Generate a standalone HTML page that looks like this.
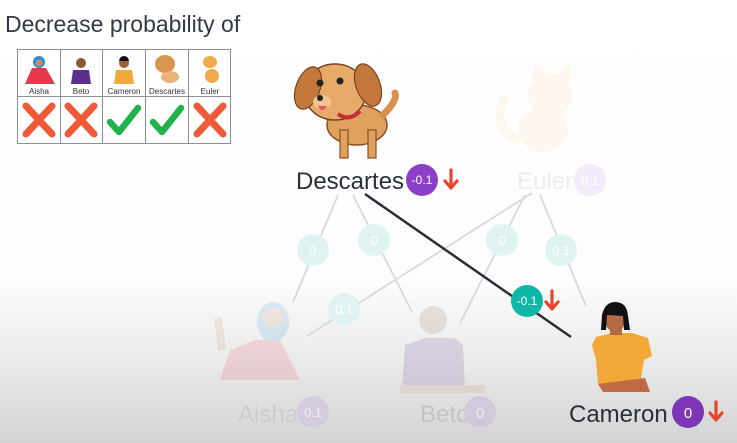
<!DOCTYPE html>
<html><head><meta charset="utf-8"><style>
html,body{margin:0;padding:0;width:737px;height:443px;overflow:hidden;font-family:"Liberation Sans",sans-serif}
</style></head><body>
<svg width="737" height="443" viewBox="0 0 737 443" xmlns="http://www.w3.org/2000/svg" font-family="Liberation Sans, sans-serif">
<defs>
<linearGradient id="bg" x1="0" y1="0" x2="0" y2="1">
<stop offset="0" stop-color="#fff"/><stop offset="0.63" stop-color="#fdfdfd"/><stop offset="0.8" stop-color="#ececec"/><stop offset="1" stop-color="#d4d4d4"/>
</linearGradient>
<g id="arr"><path d="M0 -9 V8 M-6 2 L0 9 L6 2" stroke="#e8432c" stroke-width="3.2" fill="none" stroke-linecap="round" stroke-linejoin="round"/></g>
<g id="x"><path d="M-13 -14 L13 14 M13 -14 L-13 14" stroke="#f05a38" stroke-width="7" stroke-linecap="round"/></g>
<g id="ck"><path d="M-14 2 L-5 12 L14 -12" stroke="#22b24c" stroke-width="6.5" fill="none" stroke-linecap="round" stroke-linejoin="round"/></g>
</defs>
<rect width="737" height="443" fill="url(#bg)"/>
<text x="5" y="32" font-size="23" fill="#333a44">Decrease probability of</text>
<g stroke="#8a8f99" stroke-width="1" fill="none">
<rect x="17.5" y="49.5" width="213" height="94" fill="#fff"/>
<line x1="17" y1="96.5" x2="231" y2="96.5"/>
<line x1="60.5" y1="49" x2="60.5" y2="144"/><line x1="102.5" y1="49" x2="102.5" y2="144"/>
<line x1="145.5" y1="49" x2="145.5" y2="144"/><line x1="188.5" y1="49" x2="188.5" y2="144"/>
</g>
<g font-size="8" fill="#333" text-anchor="middle">
<text x="39" y="94">Aisha</text><text x="81" y="94">Beto</text><text x="124" y="94">Cameron</text><text x="167" y="94">Descartes</text><text x="210" y="94">Euler</text>
</g>
<path d="M25 84 L32 68 L46 68 L55 84 Z" fill="#e8374f"/><circle cx="39" cy="62" r="6" fill="#2b8fd4"/><circle cx="39" cy="63" r="3.5" fill="#c98962"/>
<path d="M71 84 L73 70 L89 70 L91 84 Z" fill="#5b2d8f"/><circle cx="81" cy="63" r="5" fill="#8a5636"/>
<path d="M114 84 L116 70 L132 70 L134 84 Z" fill="#f3a93a"/><circle cx="124" cy="63" r="5" fill="#a0603c"/><path d="M119 61 a5 5 0 0 1 10 0" fill="#111"/>
<ellipse cx="165" cy="64" rx="10" ry="9" fill="#d9954f"/><ellipse cx="170" cy="77" rx="9" ry="6" fill="#e9b27a"/>
<ellipse cx="210" cy="62" rx="7" ry="6" fill="#f2a94a"/><ellipse cx="212" cy="76" rx="7" ry="7" fill="#f2a94a"/>
<use href="#x" x="39" y="120"/><use href="#x" x="81" y="120"/><use href="#ck" x="124" y="120"/><use href="#ck" x="167" y="120"/><use href="#x" x="210" y="120"/>
<g stroke="#d9d9d9" stroke-width="1.8">
<line x1="338" y1="195" x2="293" y2="302"/><line x1="353" y1="195" x2="412" y2="312"/>
<line x1="532" y1="193" x2="307" y2="336"/><line x1="525" y1="195" x2="460" y2="323"/><line x1="540" y1="195" x2="586" y2="306"/>
</g>
<line x1="365" y1="194" x2="571" y2="337" stroke="#2a2f36" stroke-width="2.5"/>
<g fill="#dff4f2"><circle cx="313" cy="250" r="16"/><circle cx="374" cy="240" r="16"/><circle cx="502" cy="240" r="16"/><circle cx="561" cy="250" r="16"/><circle cx="344" cy="309" r="16"/></g>
<g fill="#fff" font-size="13" text-anchor="middle"><text x="313" y="255">0</text><text x="374" y="245">0</text><text x="502" y="245">0</text><text x="561" y="255">0.1</text><text x="344" y="314">0.1</text></g>
<circle cx="527" cy="301" r="16" fill="#10b7a6"/><text x="527" y="305" fill="#fff" font-size="12" text-anchor="middle">-0.1</text>
<use href="#arr" x="552" y="300"/>
<g>
<ellipse cx="357" cy="125" rx="30" ry="20" fill="#e0a15e" stroke="#8a4f24" stroke-width="1.5"/>
<rect x="340" y="130" width="8" height="28" fill="#e0a15e" stroke="#8a4f24" stroke-width="1.2"/><rect x="368" y="130" width="8" height="28" fill="#e0a15e" stroke="#8a4f24" stroke-width="1.2"/>
<path d="M383 115 q15 -15 12 -22" stroke="#d9914d" stroke-width="7" fill="none" stroke-linecap="round"/>
<ellipse cx="335" cy="92" rx="31" ry="28" fill="#e7aa68" stroke="#7a4320" stroke-width="1.5"/>
<ellipse cx="308" cy="88" rx="12" ry="22" fill="#c2783a" stroke="#7a4320" stroke-width="1.2" transform="rotate(20 308 88)"/>
<ellipse cx="368" cy="85" rx="12" ry="22" fill="#c2783a" stroke="#7a4320" stroke-width="1.2" transform="rotate(-20 368 85)"/>
<circle cx="320" cy="83" r="3.5" fill="#222"/><circle cx="340" cy="81" r="3.5" fill="#222"/>
<ellipse cx="322" cy="102" rx="9" ry="7" fill="#f5c38f"/><circle cx="320" cy="98" r="3" fill="#222"/>
<path d="M318 106 q4 8 9 0 z" fill="#e3566a"/>
<path d="M338 114 q12 8 22 -3" stroke="#c3303a" stroke-width="4" fill="none"/>
</g>
<g opacity="0.08">
<ellipse cx="543" cy="130" rx="25" ry="22" fill="#f2a94a"/><circle cx="550" cy="95" r="22" fill="#f2a94a"/>
<path d="M532 80 L535 62 L546 76 Z M558 76 L570 62 L570 82 Z" fill="#f2a94a"/>
<path d="M520 140 q-30 -10 -15 -45" stroke="#f2a94a" stroke-width="9" fill="none"/>
</g>
<text x="296" y="189" font-size="24" fill="#2a2f3a">Descartes</text>
<circle cx="422" cy="180" r="16" fill="#8c3fc9"/><text x="422" y="184" font-size="12" fill="#fff" text-anchor="middle">-0.1</text>
<use href="#arr" x="451" y="179"/>
<text x="517" y="189" font-size="24" fill="#eeeeef">Euler</text>
<circle cx="590" cy="180" r="16" fill="#f3eafb"/><text x="590" y="185" font-size="13" fill="#fff" text-anchor="middle">0.1</text>
<g opacity="0.15">
<path d="M220 380 L230 350 L255 340 L280 340 L300 380 Z" fill="#e8374f"/>
<ellipse cx="273" cy="322" rx="16" ry="20" fill="#2b8fd4"/><circle cx="273" cy="318" r="10" fill="#c98962"/>
<path d="M222 350 L218 318" stroke="#c98962" stroke-width="8"/>
</g>
<g opacity="0.15">
<path d="M402 390 L405 345 L425 338 L455 338 L463 345 L465 390 Z" fill="#5b2d8f"/>
<circle cx="433" cy="320" r="14" fill="#8a5636"/><rect x="400" y="385" width="85" height="8" fill="#c98962"/>
</g>
<g>
<path d="M592 345 L596 337 L612 333 L632 333 L648 338 L652 356 L644 360 L640 384 L598 384 L596 360 Z" fill="#f3a93a"/>
<path d="M598 384 L645 378 L650 392 L603 392 Z" fill="#c06a45"/>
<rect x="610" y="325" width="12" height="10" fill="#b46a45"/>
<ellipse cx="615" cy="320" rx="10" ry="12" fill="#b46a45"/>
<path d="M601 330 L602 315 Q605 302 615 302 Q627 302 628 316 L630 330 L624 330 L623 316 L607 315 L606 330 Z" fill="#111"/>
</g>
<text x="238" y="422" font-size="24" fill="#cdcdd0">Aisha</text>
<circle cx="313" cy="412" r="16" fill="#d6cce0"/><text x="313" y="417" font-size="13" fill="#eee" text-anchor="middle">0.1</text>
<text x="420" y="422" font-size="24" fill="#c4c4c6">Beto</text>
<circle cx="480" cy="412" r="16" fill="#d3c9dc"/><text x="480" y="418" font-size="15" fill="#eee" text-anchor="middle">0</text>
<text x="569" y="422" font-size="24" fill="#2a2f3a">Cameron</text>
<circle cx="688" cy="412" r="16" fill="#7d36b5"/><text x="688" y="418" font-size="15" fill="#fff" text-anchor="middle">0</text>
<use href="#arr" x="716" y="411"/>
</svg>
</body></html>
